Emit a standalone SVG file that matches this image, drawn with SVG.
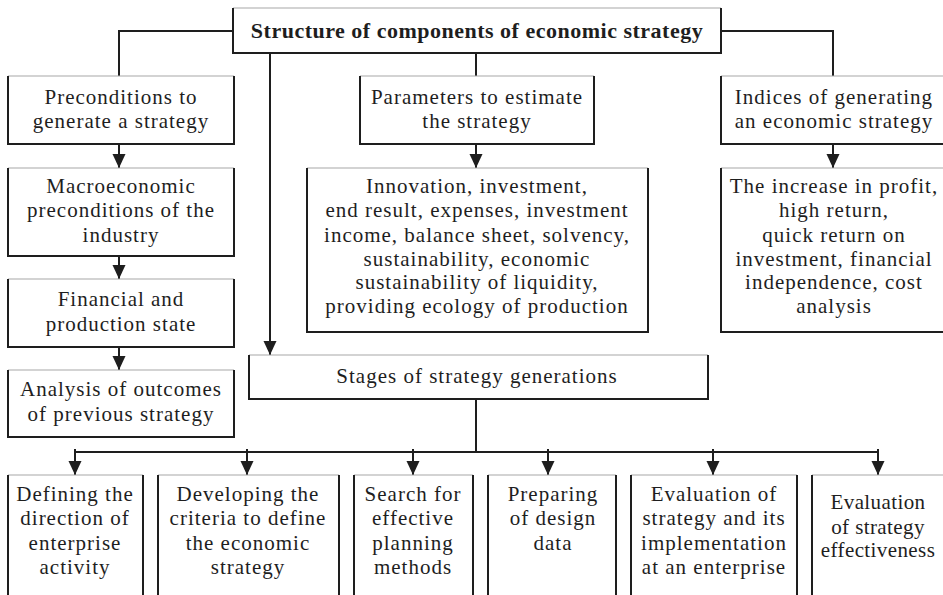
<svg xmlns="http://www.w3.org/2000/svg" width="943" height="595" viewBox="0 0 943 595">
  <style>
    .side { fill: none; stroke: #1e1e1e; stroke-width: 2; }
    .top { fill: none; stroke: #a8a8a8; stroke-width: 1.2; }
    .wire { fill: none; stroke: #1e1e1e; stroke-width: 2; }
    text { font-family: "Liberation Serif", "Times New Roman", serif; font-size: 21px; letter-spacing: 1px; fill: #1e1e1e; text-anchor: middle; }
    .title { font-weight: bold; font-size: 22px; letter-spacing: 0.5px; }
    .tight { letter-spacing: 0.4px; }
  </style>
  <defs>
    <marker id="arrow" markerUnits="userSpaceOnUse" viewBox="0 -7 14 14" markerWidth="14" markerHeight="14" refX="14" refY="0" orient="auto">
      <path d="M0,-6.5 L14,0 L0,6.5 z" fill="#1e1e1e"/>
    </marker>
  </defs>
  <rect width="943" height="595" fill="#ffffff"/>

  <!-- connectors -->
  <g id="connectors">
    <path class="wire" d="M233,31 H119 V76"/>
    <path class="wire" d="M476,53 V76"/>
    <path class="wire" d="M721,31 H833 V76"/>
    <path class="wire" d="M270,53 V355" marker-end="url(#arrow)"/>
    <path class="wire" d="M119,144 V168" marker-end="url(#arrow)"/>
    <path class="wire" d="M119,256 V279" marker-end="url(#arrow)"/>
    <path class="wire" d="M119,347 V370" marker-end="url(#arrow)"/>
    <path class="wire" d="M476,144 V168" marker-end="url(#arrow)"/>
    <path class="wire" d="M833,144 V168" marker-end="url(#arrow)"/>
    <path class="wire" d="M476,399 V452"/>
    <path class="wire" d="M75,452 H878"/>
    <path class="wire" d="M75,449 V475" marker-end="url(#arrow)"/>
    <path class="wire" d="M247,449 V475" marker-end="url(#arrow)"/>
    <path class="wire" d="M413,449 V475" marker-end="url(#arrow)"/>
    <path class="wire" d="M548,449 V475" marker-end="url(#arrow)"/>
    <path class="wire" d="M713,449 V475" marker-end="url(#arrow)"/>
    <path class="wire" d="M878,449 V475" marker-end="url(#arrow)"/>
  </g>

  <g id="title">
    <path class="top" d="M233,8 H721"/>
    <path class="side" d="M233,8 V53 H721 V8"/>
    <text class="title" x="477" y="38">Structure of components of economic strategy</text>
  </g>

  <g id="preconditions">
    <path class="top" d="M8,76 H234"/>
    <path class="side" d="M8,76 V144 H234 V76"/>
    <text x="121" y="104">Preconditions to</text>
    <text x="121" y="128">generate a strategy</text>
  </g>

  <g id="macroeconomic">
    <path class="top" d="M8,168 H234"/>
    <path class="side" d="M8,168 V256 H234 V168"/>
    <text x="121" y="193">Macroeconomic</text>
    <text x="121" y="217">preconditions of the</text>
    <text x="121" y="242">industry</text>
  </g>

  <g id="financial">
    <path class="top" d="M8,279 H234"/>
    <path class="side" d="M8,279 V347 H234 V279"/>
    <text x="121" y="306">Financial and</text>
    <text x="121" y="331">production state</text>
  </g>

  <g id="analysis">
    <path class="top" d="M8,370 H234"/>
    <path class="side" d="M8,370 V437 H234 V370"/>
    <text x="121" y="396">Analysis of outcomes</text>
    <text x="121" y="421">of previous strategy</text>
  </g>

  <g id="parameters">
    <path class="top" d="M360,76 H594"/>
    <path class="side" d="M360,76 V144 H594 V76"/>
    <text x="477" y="104">Parameters to estimate</text>
    <text x="477" y="128">the strategy</text>
  </g>

  <g id="parameter-list">
    <path class="top" d="M307,168 H648"/>
    <path class="side" d="M307,168 V332 H648 V168"/>
    <text x="477" y="193">Innovation, investment,</text>
    <text x="477" y="217">end result, expenses, investment</text>
    <text x="477" y="242">income, balance sheet, solvency,</text>
    <text x="477" y="266">sustainability, economic</text>
    <text x="477" y="289">sustainability of liquidity,</text>
    <text x="477" y="313">providing ecology of production</text>
  </g>

  <g id="indices">
    <path class="top" d="M721,76 H943"/>
    <path class="side" d="M943,144 H721 V76"/>
    <text x="834" y="104">Indices of generating</text>
    <text x="834" y="128">an economic strategy</text>
  </g>

  <g id="index-list">
    <path class="top" d="M721,168 H943"/>
    <path class="side" d="M943,332 H721 V168"/>
    <text x="834" y="193">The increase in profit,</text>
    <text x="834" y="217">high return,</text>
    <text x="834" y="242">quick return on</text>
    <text x="834" y="266">investment, financial</text>
    <text x="834" y="289">independence, cost</text>
    <text x="834" y="313">analysis</text>
  </g>

  <g id="stages">
    <path class="top" d="M249,355 H708"/>
    <path class="side" d="M249,355 V399 H708 V355"/>
    <text x="477" y="383">Stages of strategy generations</text>
  </g>

  <g id="stage-direction">
    <path class="top" d="M8,475 H143"/>
    <path class="side" d="M8,595 V475 M143,475 V595"/>
    <text x="75" y="501">Defining the</text>
    <text x="75" y="525">direction of</text>
    <text x="75" y="550">enterprise</text>
    <text x="75" y="574">activity</text>
  </g>

  <g id="stage-criteria">
    <path class="top" d="M158,475 H339"/>
    <path class="side" d="M158,595 V475 M339,475 V595"/>
    <text x="248" y="501">Developing the</text>
    <text x="248" y="525">criteria to define</text>
    <text x="248" y="550">the economic</text>
    <text x="248" y="574">strategy</text>
  </g>

  <g id="stage-methods">
    <path class="top" d="M354,475 H473"/>
    <path class="side" d="M354,595 V475 M473,475 V595"/>
    <text x="413" y="501">Search for</text>
    <text x="413" y="525">effective</text>
    <text x="413" y="550">planning</text>
    <text x="413" y="574">methods</text>
  </g>

  <g id="stage-design">
    <path class="top" d="M488,475 H616"/>
    <path class="side" d="M488,595 V475 M616,475 V595"/>
    <text x="553" y="501">Preparing</text>
    <text x="553" y="525">of design</text>
    <text x="553" y="550">data</text>
  </g>

  <g id="stage-implementation">
    <path class="top" d="M631,475 H797"/>
    <path class="side" d="M631,595 V475 M797,475 V595"/>
    <text x="714" y="501">Evaluation of</text>
    <text x="714" y="525">strategy and its</text>
    <text x="714" y="550">implementation</text>
    <text x="714" y="574">at an enterprise</text>
  </g>

  <g id="stage-effectiveness">
    <path class="top" d="M812,475 H943"/>
    <path class="side" d="M812,595 V475"/>
    <text class="tight" x="878" y="509">Evaluation</text>
    <text class="tight" x="878" y="534">of strategy</text>
    <text class="tight" x="878" y="557">effectiveness</text>
  </g>
</svg>
